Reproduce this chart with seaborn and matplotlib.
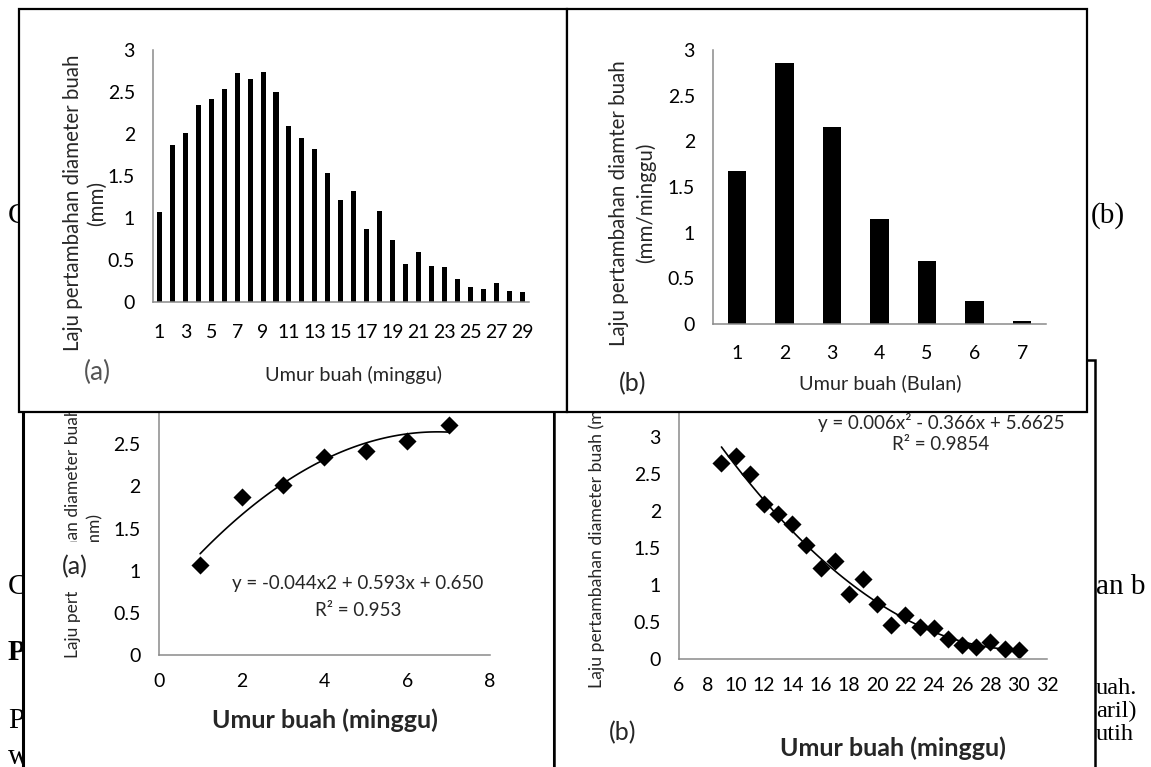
import numpy as np
import pandas as pd
import matplotlib
matplotlib.use("Agg")
import matplotlib.pyplot as plt
import matplotlib.transforms as mtransforms
from matplotlib.patches import Rectangle
from matplotlib.ticker import FixedLocator, FuncFormatter
import seaborn as sns

# ---------------- data ----------------
weeks = list(range(1, 30))
weekly_rate = [1.07, 1.87, 2.01, 2.35, 2.42, 2.54, 2.73, 2.65, 2.74, 2.50,
               2.09, 1.95, 1.82, 1.54, 1.22, 1.32, 0.87, 1.08, 0.74, 0.45,
               0.59, 0.43, 0.42, 0.27, 0.18, 0.16, 0.23, 0.135, 0.12]
week_tick_labels = ["1", "3", "5", "7", "9", "11", "13", "15", "17", "19",
                    "21", "23", "25", "27", "29"]

months = [1, 2, 3, 4, 5, 6, 7]
monthly_rate = [1.67, 2.855, 2.16, 1.15, 0.69, 0.255, 0.03]

early_weeks = [1, 2, 3, 4, 5, 6, 7]
early_rate = [1.07, 1.87, 2.01, 2.35, 2.42, 2.54, 2.73]

late_weeks = [9, 10, 11, 12, 13, 14, 15, 16, 17, 18, 19, 20, 21, 22, 23, 24,
              25, 26, 27, 28, 29, 30]
late_rate = [2.65, 2.74, 2.50, 2.09, 1.95, 1.82, 1.54, 1.22, 1.32, 0.87, 1.08,
             0.74, 0.45, 0.59, 0.43, 0.42, 0.27, 0.18, 0.16, 0.23, 0.135, 0.12]

rate_ticks_3 = [0, 0.5, 1, 1.5, 2, 2.5, 3]
rate_ticks_35 = [0, 0.5, 1, 1.5, 2, 2.5, 3, 3.5]
early_xticks = [0, 2, 4, 6, 8]
late_xticks = [6, 8, 10, 12, 14, 16, 18, 20, 22, 24, 26, 28, 30, 32]

eq_early = "y = -0.044x2 + 0.593x + 0.650"
r2_early = "R² = 0.953"
eq_late = "y = 0.006x² - 0.366x + 5.6625"
r2_late = "R² = 0.9854"

# ---------------- style ----------------
sns.set_style("white")
plt.rcParams["font.family"] = ["Lato", "DejaVu Sans"]
GRAY = "#8a8a8a"
TICK_FS = 14
LAB_FS = 14.3
EQ_FS = 13.5

W, H = 1151, 767
fig = plt.figure(figsize=(W / 100, H / 100), dpi=100)
fig.patch.set_facecolor("white")
px = mtransforms.Affine2D().scale(1 / W, -1 / H).translate(0, 1) + fig.transFigure


def add_ax(x0, y0, x1, y1):
    ax = fig.add_axes([x0 / W, 1 - y1 / H, (x1 - x0) / W, (y1 - y0) / H])
    ax.patch.set_facecolor("none")
    return ax


def frame(ax, x0, y0, x1, y1, lw=1.5):
    r = Rectangle((x0, y0), x1 - x0, y1 - y0, transform=px, facecolor="white",
                  edgecolor="black", lw=lw, zorder=-10, clip_on=False)
    ax.add_artist(r)


def style_axes(ax):
    for s in ["top", "right"]:
        ax.spines[s].set_visible(False)
    for s in ["left", "bottom"]:
        ax.spines[s].set_color(GRAY)
        ax.spines[s].set_linewidth(1.1)
    ax.tick_params(axis="both", which="both", color=GRAY, width=1.1,
                   labelsize=TICK_FS, labelcolor="black")
    ax.tick_params(axis="y", which="major", direction="out", length=5, pad=8)
    ax.yaxis.set_major_formatter(FuncFormatter(lambda v, p: f"{v:g}"))


# ---------------- background document text ----------------
serif = dict(family="Liberation Serif", color="black", zorder=-5,
             transform=px, va="center", ha="left")
fig.text(8, 216, "C", fontsize=21, **serif)
fig.text(8, 587, "C", fontsize=21, **serif)
fig.text(8, 653, "P", fontsize=21, fontweight="bold", **serif)
fig.text(8, 721, "P", fontsize=21, **serif)
fig.text(8, 757, "w", fontsize=21, **serif)
fig.text(1091, 216, "(b)", fontsize=21, **serif)
fig.text(1096, 587, "an b", fontsize=21, **serif)
fig.text(1096, 688, "uah.", fontsize=17.5, **serif)
fig.text(1096, 711, "aril)", fontsize=17.5, **serif)
fig.text(1096, 734, "utih", fontsize=17.5, **serif)

# ---------------- bottom-left: early weeks scatter + quadratic trend ----------------
ax_c = add_ax(158.7, 402, 490, 655)
frame(ax_c, 23, 380, 554, 800, lw=2.2)
sns.regplot(x=early_weeks, y=early_rate, order=2, ci=None, scatter=False,
            line_kws=dict(color="black", lw=1.2), ax=ax_c)
sns.scatterplot(x=early_weeks, y=early_rate, marker="D", s=85, color="black",
                linewidth=0, ax=ax_c)
ax_c.set_xlim(0, 8)
ax_c.set_ylim(0, 3)
style_axes(ax_c)
ax_c.set_xticks(early_xticks)
ax_c.set_yticks(rate_ticks_3)
ax_c.tick_params(axis="x", which="major", direction="out", length=5, pad=8)
ax_c.set_xlabel("Umur buah (minggu)", fontsize=18, fontweight="bold")
ax_c.xaxis.label.set_va("center")
ax_c.xaxis.set_label_coords(325, 720, transform=px)
ax_c.set_ylabel("Laju pertambahan diameter buah\n(mm)", fontsize=12.5, linespacing=1.4)
ax_c.yaxis.label.set_va("center")
ax_c.yaxis.set_label_coords(84, 532, transform=px)
ax_c.text(358, 583, eq_early, transform=px, ha="center", va="center", fontsize=EQ_FS)
ax_c.text(358, 610, r2_early, transform=px, ha="center", va="center", fontsize=EQ_FS)
ax_c.add_artist(Rectangle((58, 542), 48, 50, transform=px, facecolor="white",
                          edgecolor="none", zorder=5, clip_on=False))
ax_c.text(75, 567, "(a)", transform=px, ha="center", va="center", fontsize=18, zorder=6)

# ---------------- bottom-right: late weeks scatter + quadratic trend ----------------
ax_d = add_ax(679, 399.7, 1047, 658.7)
frame(ax_d, 554, 360, 1095, 800, lw=1.8)
sns.regplot(x=late_weeks, y=late_rate, order=2, ci=None, scatter=False,
            line_kws=dict(color="black", lw=1.2), ax=ax_d)
sns.scatterplot(x=late_weeks, y=late_rate, marker="D", s=85, color="black",
                linewidth=0, ax=ax_d)
ax_d.set_xlim(6, 32)
ax_d.set_ylim(0, 3.5)
style_axes(ax_d)
ax_d.set_xticks(late_xticks)
ax_d.set_yticks(rate_ticks_35)
ax_d.tick_params(axis="x", which="major", direction="out", length=5, pad=8)
ax_d.set_xlabel("Umur buah (minggu)", fontsize=18, fontweight="bold")
ax_d.xaxis.label.set_va("center")
ax_d.xaxis.set_label_coords(893, 748, transform=px)
ax_d.set_ylabel("Laju pertambahan diameter buah (mm/minggu)", fontsize=12.7)
ax_d.yaxis.label.set_va("center")
ax_d.yaxis.label.set_ha("left")
ax_d.yaxis.set_label_coords(597, 688, transform=px)
ax_d.text(941, 422, eq_late, transform=px, ha="center", va="center", fontsize=EQ_FS)
ax_d.text(941, 445, r2_late, transform=px, ha="center", va="center", fontsize=EQ_FS)
ax_d.text(623, 733, "(b)", transform=px, ha="center", va="center", fontsize=18)

# ---------------- top-left: weekly bars ----------------
ax_a = add_ax(153, 50, 528.5, 302)
frame(ax_a, 19, 9, 567, 412, lw=1.6)
df_a = pd.DataFrame({"week": weeks, "rate": weekly_rate})
sns.barplot(data=df_a, x="week", y="rate", color="black", saturation=1,
            width=0.39, linewidth=0, ax=ax_a)
ax_a.set_xlim(-0.5, len(weeks) - 0.5)
ax_a.set_ylim(0, 3)
style_axes(ax_a)
ax_a.set_yticks(rate_ticks_3)
ax_a.set_xticks(range(0, len(weeks), 2))
ax_a.set_xticklabels(week_tick_labels)
ax_a.xaxis.set_minor_locator(FixedLocator(np.arange(-0.5, len(weeks), 1.0)))
ax_a.tick_params(axis="x", which="major", length=0, pad=16)
ax_a.tick_params(axis="x", which="minor", direction="out", length=5)
ax_a.set_xlabel("Umur buah (minggu)", fontsize=LAB_FS)
ax_a.xaxis.label.set_va("center")
ax_a.xaxis.set_label_coords(354, 375, transform=px)
ax_a.set_ylabel("Laju pertambahan diameter buah\n(mm)", fontsize=14.8, linespacing=1.3)
ax_a.yaxis.label.set_va("center")
ax_a.yaxis.set_label_coords(85, 203, transform=px)
ax_a.text(97, 372, "(a)", transform=px, ha="center", va="center", fontsize=19,
          color="#555555")

# ---------------- top-right: monthly bars ----------------
ax_b = add_ax(713, 50, 1046, 324)
frame(ax_b, 567, 9, 1087, 412, lw=1.6)
df_b = pd.DataFrame({"month": months, "rate": monthly_rate})
sns.barplot(data=df_b, x="month", y="rate", color="black", saturation=1,
            width=0.385, linewidth=0, ax=ax_b)
ax_b.set_xlim(-0.5, len(months) - 0.5)
ax_b.set_ylim(0, 3)
style_axes(ax_b)
ax_b.set_yticks(rate_ticks_3)
ax_b.xaxis.set_minor_locator(FixedLocator(np.arange(-0.5, len(months), 1.0)))
ax_b.tick_params(axis="x", which="major", length=0, pad=15)
ax_b.tick_params(axis="x", which="minor", direction="out", length=5)
ax_b.set_xlabel("Umur buah (Bulan)", fontsize=LAB_FS)
ax_b.xaxis.label.set_va("center")
ax_b.xaxis.set_label_coords(880, 383, transform=px)
ax_b.set_ylabel("Laju pertambahan diamter buah\n(mm/minggu)", fontsize=14.8, linespacing=1.4)
ax_b.yaxis.label.set_va("center")
ax_b.yaxis.set_label_coords(633, 203, transform=px)
ax_b.text(633, 384, "(b)", transform=px, ha="center", va="center", fontsize=18)

fig.savefig("out.png", dpi=100, facecolor="white")
